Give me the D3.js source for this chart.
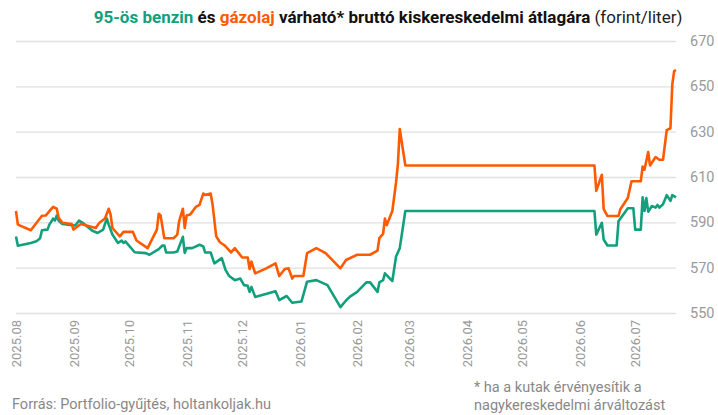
<!DOCTYPE html>
<html lang="hu">
<head>
    <meta charset="utf-8">
    <title>Benzin és gázolaj átlagár</title>
    <style>
        body { margin: 0; background: #fff; }
        svg { display: block; font-family: Roboto, "Noto Sans", sans-serif; }
    </style>
</head>
<body>
    <svg width="718" height="415"></svg>
    <script src="https://cdn.jsdelivr.net/npm/d3@7"></script>
    <script>
        // 95-ös benzin, forint/liter
        const benzin = [
            ["2025-08-01", 583.8], ["2025-08-02", 579.7], ["2025-08-09", 580.9], ["2025-08-12", 581.6],
            ["2025-08-14", 583], ["2025-08-15", 586.5], ["2025-08-18", 586.8], ["2025-08-19", 589],
            ["2025-08-21", 591.6], ["2025-08-22", 590.8], ["2025-08-23", 593], ["2025-08-24", 590.8],
            ["2025-08-26", 589.3], ["2025-08-30", 588.8], ["2025-09-02", 588.6], ["2025-09-04", 590.8],
            ["2025-09-06", 589.8], ["2025-09-11", 586.4], ["2025-09-14", 585.3], ["2025-09-17", 586.8],
            ["2025-09-19", 591.7], ["2025-09-20", 589], ["2025-09-22", 584.6], ["2025-09-25", 580.9],
            ["2025-09-27", 581.9], ["2025-09-28", 580.9], ["2025-09-29", 581.6], ["2025-10-04", 576.8],
            ["2025-10-10", 576.4], ["2025-10-12", 575.7], ["2025-10-17", 578.2], ["2025-10-19", 579.8],
            ["2025-10-20", 579.8], ["2025-10-21", 576.7], ["2025-10-25", 576.7], ["2025-10-27", 577.1],
            ["2025-10-30", 583.6], ["2025-10-31", 576.5], ["2025-11-01", 578.6], ["2025-11-04", 578.6],
            ["2025-11-08", 580.1], ["2025-11-10", 579.4], ["2025-11-11", 576.7], ["2025-11-14", 576.7],
            ["2025-11-16", 571.9], ["2025-11-20", 574.2], ["2025-11-22", 569], ["2025-11-24", 566.3],
            ["2025-11-27", 564.5], ["2025-11-30", 565.2], ["2025-12-02", 562.3], ["2025-12-04", 562],
            ["2025-12-05", 559.3], ["2025-12-06", 561.5], ["2025-12-08", 557.1], ["2025-12-19", 559.6],
            ["2025-12-21", 555.7], ["2025-12-25", 557.5], ["2025-12-28", 554.5], ["2026-01-02", 555.1],
            ["2026-01-05", 563.8], ["2026-01-10", 564.5], ["2026-01-16", 562.3], ["2026-01-23", 552.6],
            ["2026-01-26", 555.5], ["2026-01-28", 557.1], ["2026-02-01", 559.3], ["2026-02-06", 563.5],
            ["2026-02-08", 563.5], ["2026-02-12", 559.3], ["2026-02-13", 563.5], ["2026-02-15", 564.5],
            ["2026-02-16", 567.5], ["2026-02-20", 564.1], ["2026-02-22", 574.9], ["2026-02-24", 578.6],
            ["2026-02-27", 595], ["2026-06-09", 595], ["2026-06-10", 584.6], ["2026-06-13", 589.8],
            ["2026-06-14", 582.4], ["2026-06-16", 579.8], ["2026-06-21", 579.8], ["2026-06-22", 590.5],
            ["2026-06-27", 596.2], ["2026-06-30", 596.2], ["2026-07-01", 586.8], ["2026-07-04", 586.8],
            ["2026-07-05", 601], ["2026-07-06", 595], ["2026-07-07", 600.7], ["2026-07-08", 594.7],
            ["2026-07-10", 597.2], ["2026-07-12", 596.5], ["2026-07-13", 597.7], ["2026-07-14", 596.5],
            ["2026-07-16", 598], ["2026-07-18", 602], ["2026-07-20", 599.5], ["2026-07-21", 602],
            ["2026-07-23", 601]
        ];

        // gázolaj, forint/liter
        const gazolaj = [
            ["2025-08-01", 595], ["2025-08-02", 589], ["2025-08-09", 586.5], ["2025-08-15", 592.9],
            ["2025-08-17", 593], ["2025-08-21", 596.8], ["2025-08-23", 596], ["2025-08-24", 592],
            ["2025-08-26", 589.8], ["2025-08-31", 589.3], ["2025-09-01", 586.8], ["2025-09-05", 589.3],
            ["2025-09-13", 587.5], ["2025-09-15", 589.8], ["2025-09-18", 591.7], ["2025-09-20", 596],
            ["2025-09-21", 593.5], ["2025-09-22", 587.5], ["2025-09-26", 583.8], ["2025-09-28", 585.8],
            ["2025-10-03", 585.8], ["2025-10-05", 582], ["2025-10-11", 578.6], ["2025-10-16", 586.8],
            ["2025-10-17", 593.8], ["2025-10-18", 593], ["2025-10-20", 583], ["2025-10-25", 583],
            ["2025-10-27", 584.6], ["2025-10-28", 590.5], ["2025-10-30", 596], ["2025-10-31", 587.5],
            ["2025-11-01", 593], ["2025-11-03", 593.5], ["2025-11-06", 596.8], ["2025-11-08", 597.7],
            ["2025-11-10", 602.7], ["2025-11-11", 602.1], ["2025-11-14", 602.7], ["2025-11-15", 598],
            ["2025-11-17", 583.8], ["2025-11-19", 581.2], ["2025-11-21", 580.1], ["2025-11-22", 579.4],
            ["2025-11-25", 576.7], ["2025-11-27", 578.6], ["2025-12-01", 574.5], ["2025-12-04", 574.5],
            ["2025-12-05", 569.4], ["2025-12-06", 572.7], ["2025-12-08", 567.5], ["2025-12-14", 569.7],
            ["2025-12-19", 571.9], ["2025-12-21", 566.3], ["2025-12-24", 569.4], ["2025-12-26", 569.7],
            ["2025-12-28", 565.2], ["2025-12-29", 566.3], ["2026-01-03", 566.3], ["2026-01-05", 576.4],
            ["2026-01-10", 578.6], ["2026-01-15", 576.4], ["2026-01-23", 569.7], ["2026-01-26", 573.4],
            ["2026-02-01", 575.7], ["2026-02-08", 575.7], ["2026-02-12", 577.5], ["2026-02-13", 583],
            ["2026-02-15", 584.9], ["2026-02-16", 591.7], ["2026-02-17", 588.8], ["2026-02-20", 595],
            ["2026-02-22", 607.6], ["2026-02-23", 615.8], ["2026-02-24", 631.2], ["2026-02-27", 615.1],
            ["2026-06-09", 615.1], ["2026-06-10", 603.9], ["2026-06-13", 611], ["2026-06-14", 595.8],
            ["2026-06-16", 592.8], ["2026-06-22", 592.8], ["2026-06-23", 595.8], ["2026-06-27", 600.7],
            ["2026-06-29", 608.1], ["2026-07-04", 608.1], ["2026-07-05", 614.6], ["2026-07-06", 613.2],
            ["2026-07-08", 621], ["2026-07-09", 615.1], ["2026-07-12", 618.8], ["2026-07-14", 617.6],
            ["2026-07-16", 617.6], ["2026-07-18", 630.7], ["2026-07-20", 631.5], ["2026-07-21", 650.8],
            ["2026-07-22", 656.7], ["2026-07-23", 657.2]
        ];

        const yTicks = [550, 570, 590, 610, 630, 650, 670];
        const monthTicks = ["2025-08-01", "2025-09-01", "2025-10-01", "2025-11-01", "2025-12-01", "2026-01-01",
            "2026-02-01", "2026-03-01", "2026-04-01", "2026-05-01", "2026-06-01", "2026-07-01"];

        const green = "#12a07c";
        const orange = "#ff5a00";

        const parse = d3.timeParse("%Y-%m-%d");
        const svg = d3.select("svg");

        const x = d3.scaleTime()
            .domain([parse("2025-08-01"), parse("2026-07-23")])
            .range([16, 676]);
        const y = d3.scaleLinear()
            .domain([550, 670])
            .range([313, 41]);

        // grid + right axis
        const yAxis = svg.append("g")
            .attr("transform", "translate(676,0)")
            .call(d3.axisRight(y).tickValues(yTicks).tickSize(-660).tickPadding(14));
        yAxis.select(".domain").remove();
        yAxis.selectAll(".tick line").attr("stroke", "#e0e0e0").attr("stroke-width", 1.3);
        yAxis.selectAll(".tick text")
            .attr("fill", "#999")
            .attr("font-size", 14.5)
            .attr("font-family", "Roboto, sans-serif");

        // month labels, rotated
        const xAxis = svg.append("g")
            .attr("transform", "translate(0,320)")
            .call(d3.axisBottom(x).tickValues(monthTicks.map(parse)).tickFormat(d3.timeFormat("%Y.%m")).tickSize(0));
        xAxis.select(".domain").remove();
        xAxis.selectAll(".tick text")
            .attr("transform", "rotate(-90)")
            .attr("text-anchor", "end")
            .attr("x", 0)
            .attr("y", 0)
            .attr("dy", "0.35em")
            .attr("fill", "#999")
            .attr("font-size", 13)
            .attr("font-family", "Roboto, sans-serif");

        const line = d3.line()
            .x(d => x(parse(d[0])))
            .y(d => y(d[1]));

        svg.append("path")
            .datum(benzin)
            .attr("d", line)
            .attr("fill", "none")
            .attr("stroke", green)
            .attr("stroke-width", 2.6)
            .attr("stroke-linejoin", "round");

        svg.append("path")
            .datum(gazolaj)
            .attr("d", line)
            .attr("fill", "none")
            .attr("stroke", orange)
            .attr("stroke-width", 2.6)
            .attr("stroke-linejoin", "round");

        // title
        const title = svg.append("text")
            .attr("x", 388)
            .attr("y", 23)
            .attr("text-anchor", "middle")
            .attr("font-size", 17)
            .attr("font-weight", "bold")
            .attr("fill", "#111");
        title.append("tspan").attr("fill", green).text("95-ös benzin");
        title.append("tspan").text(" és ");
        title.append("tspan").attr("fill", orange).text("gázolaj");
        title.append("tspan").text(" várható* bruttó kiskereskedelmi átlagára ");
        title.append("tspan").attr("font-weight", "normal").attr("fill", "#222").text("(forint/liter)");

        // footer
        svg.append("text")
            .attr("x", 12)
            .attr("y", 409)
            .attr("font-size", 14.5)
            .attr("fill", "#888")
            .text("Forrás: Portfolio-gyűjtés, holtankoljak.hu");

        const note = svg.append("text")
            .attr("x", 474)
            .attr("font-size", 14.5)
            .attr("fill", "#888");
        note.append("tspan").attr("x", 474).attr("y", 392).text("* ha a kutak érvényesítik a");
        note.append("tspan").attr("x", 474).attr("y", 410).text("nagykereskedelmi árváltozást");
    </script>
</body>
</html>
